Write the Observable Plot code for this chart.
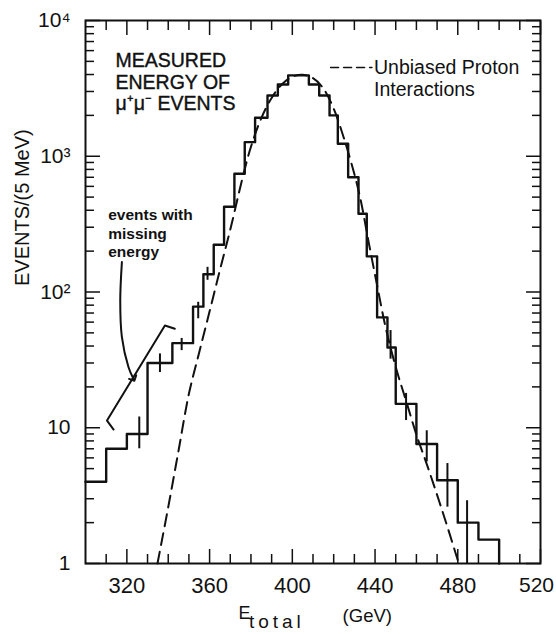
<!DOCTYPE html>
<html><head><meta charset="utf-8">
<script src="https://cdn.jsdelivr.net/npm/d3@7"></script>
<script src="https://cdn.jsdelivr.net/npm/@observablehq/plot@0.6"></script>
<style>body{margin:0;background:#fff}#chart svg{display:block}</style>
</head><body><div id="chart"></div>
<script>
// Histogram: bin edges (GeV) and events per bin
const binEdges = [300, 310, 320, 330, 342, 352, 357, 362, 367, 372, 377, 382, 388, 393, 398, 408, 413, 418, 422, 427, 432, 436, 441, 446, 450, 460, 470, 480, 490, 500];
const binCounts = [4, 7, 9, 30, 42, 78, 135, 223, 425, 743, 1270, 1920, 2800, 3380, 3940, 3380, 2800, 2000, 1235, 701, 377, 183, 65, 39, 15, 7.6, 4.1, 2.0, 1.5];

// Error bars
const errX  = [326, 336, 346.5, 354.5, 359, 447.5, 455, 465, 475, 484.5];
const errLo = [7.0, 25.5, 37, 63.5, 122, 32, 11.3, 5.6, 2.6, 1];
const errHi = [12, 35, 45.5, 84, 152, 52, 17.9, 9.5, 5.45, 2.9];

// Dashed curve: unbiased proton interactions
const curveE = [334.8, 340, 345, 350, 355, 360, 365, 370, 376, 380, 385, 390, 395, 400, 405, 410, 415, 420, 425, 430, 433, 437, 441, 445, 450, 455, 460, 465, 470, 475, 480.5];
const curveN = [1, 2.6, 6.8, 17.8, 36, 72, 145, 288, 700, 1175, 1905, 2690, 3390, 3850, 3980, 3760, 3160, 2240, 1350, 740, 480, 229, 112, 56, 28, 15.8, 8.9, 5.4, 3.2, 1.86, 1];

// Axis ticks and labels
const xMinorTicks = [310, 330, 340, 350, 370, 380, 390, 410, 420, 430, 450, 460, 470, 490, 500, 510];
const xMajorTicks = [320, 360, 400, 440, 480, 520];
const xLabelTicks = [320, 360, 400, 440, 480];
const xEdgeLabel = [520];
const yMajorTicks = [1, 10, 100, 1000, 10000];
const yTickLabels = ["1", "10", "10²", "10³", "10⁴"];
const yMinorTicks = [1, 10, 100, 1000].flatMap(d => [2,3,4,5,6,7,8,9].map(m => m * d));

// Annotations (anchored in data coordinates)
const titleNote = [{x: 314.5, y: 3524, text: "MEASURED\nENERGY OF\nμ⁺μ⁻ EVENTS"}];
const legendNote = [{x: 439.5, y: 3770, text: "Unbiased Proton\nInteractions"}];
const legendSample = [{x: 418.5, y: 4500}, {x: 438.5, y: 4500}];
const missingNote = [{x: 311, y: 274, text: "events with\nmissing\nenergy"}];
const bracketPts = [{x: 313.6, y: 9.7}, {x: 310.4, y: 11.3}, {x: 338.4, y: 56.6}, {x: 343.2, y: 53.6}];
const arrowPts = [{x: 317.6, y: 166}, {x: 316.8, y: 86}, {x: 317.6, y: 46.5}, {x: 320.8, y: 27.9}, {x: 323.2, y: 22.9}];

const histRows = binCounts.map((c, i) => ({x: binEdges[i], y: c}));
histRows.push({x: binEdges[binEdges.length - 1], y: binCounts[binCounts.length - 1]});
histRows.push({x: binEdges[binEdges.length - 1], y: 1});
const errRows = errX.map((x, i) => ({x, lo: errLo[i], hi: errHi[i]}));
const curveRows = curveE.map((x, i) => ({x, y: curveN[i]}));

const ink = "#111";
const plot = Plot.plot({
  width: 556, height: 634,
  marginLeft: 85, marginRight: 16, marginTop: 20, marginBottom: 71,
  x: {domain: [300, 520], label: null},
  y: {type: "log", domain: [1, 10000], label: null},
  style: {fontFamily: "'Liberation Sans', Arial, sans-serif", background: "#fff", color: ink},
  marks: [
    Plot.frame({stroke: ink, strokeWidth: 2}),
    Plot.axisX({anchor: "bottom", ticks: xMinorTicks, tickSize: -9, tickFormat: () => "", label: null, strokeWidth: 1.5}),
    Plot.axisX({anchor: "bottom", ticks: xMajorTicks, tickSize: -14, tickFormat: () => "", label: null, strokeWidth: 1.5}),
    Plot.axisX({anchor: "top", ticks: xMinorTicks, tickSize: -9, tickFormat: () => "", label: null, strokeWidth: 1.5}),
    Plot.axisX({anchor: "top", ticks: xMajorTicks, tickSize: -14, tickFormat: () => "", label: null, strokeWidth: 1.5}),
    Plot.axisX({anchor: "bottom", ticks: xLabelTicks, tickSize: 0, tickPadding: 14, fontSize: 22, label: null, tickFormat: d => String(d)}),
    Plot.axisX({anchor: "bottom", ticks: xEdgeLabel, tickSize: 0, tickPadding: 14, fontSize: 21, dx: -4, label: null, tickFormat: d => String(d)}),
    Plot.axisY({anchor: "left", ticks: yMinorTicks, tickSize: -9, tickFormat: () => "", label: null, strokeWidth: 1.5}),
    Plot.axisY({anchor: "left", ticks: yMajorTicks, tickSize: -15, tickFormat: () => "", label: null, strokeWidth: 1.5}),
    Plot.axisY({anchor: "right", ticks: yMinorTicks, tickSize: -9, tickFormat: () => "", label: null, strokeWidth: 1.5}),
    Plot.axisY({anchor: "right", ticks: yMajorTicks, tickSize: -15, tickFormat: () => "", label: null, strokeWidth: 1.5}),
    Plot.axisY({anchor: "left", ticks: yMajorTicks, tickSize: 0, tickPadding: 15, fontSize: 21, label: null,
      tickFormat: d => yTickLabels[yMajorTicks.indexOf(d)]}),
    Plot.text(["EVENTS/(5 MeV)"], {frameAnchor: "left", dx: -63, dy: -6, rotate: -90, fontSize: 20, fill: ink}),
    Plot.text(["E"], {frameAnchor: "bottom", x: 374, dy: 50, textAnchor: "start", lineAnchor: "middle", fontSize: 18, fill: ink}),
    Plot.text(["total"], {frameAnchor: "bottom", x: 379, dy: 58, textAnchor: "start", lineAnchor: "middle", fontSize: 19, fill: ink}),
    Plot.text(["(GeV)"], {frameAnchor: "bottom", x: 424.3, dy: 53, textAnchor: "start", lineAnchor: "middle", fontSize: 18.5, fill: ink}),
    // dashed curve
    Plot.line(curveRows, {x: "x", y: "y", curve: "catmull-rom", stroke: ink, strokeWidth: 2, strokeDasharray: "12,7"}),
    // histogram
    Plot.line(histRows, {x: "x", y: "y", curve: "step-after", stroke: ink, strokeWidth: 2.4}),
    Plot.ruleX(errRows, {x: "x", y1: "lo", y2: "hi", stroke: ink, strokeWidth: 2}),
    // annotations
    Plot.text(titleNote, {x: "x", y: "y", text: "text", textAnchor: "start", lineAnchor: "middle", fontSize: 19.5, lineHeight: 1.1, fill: ink, stroke: ink, strokeWidth: 0.4}),
    Plot.line(legendSample, {x: "x", y: "y", stroke: ink, strokeWidth: 1.5, strokeDasharray: "8,5"}),
    Plot.text(legendNote, {x: "x", y: "y", text: "text", textAnchor: "start", lineAnchor: "middle", fontSize: 19.5, lineHeight: 1.13, fill: ink}),
    Plot.text(missingNote, {x: "x", y: "y", text: "text", textAnchor: "start", lineAnchor: "middle", fontSize: 15.5, fontWeight: "bold", lineHeight: 1.2, fill: ink}),
    Plot.line(bracketPts, {x: "x", y: "y", stroke: ink, strokeWidth: 2}),
    Plot.line(arrowPts, {x: "x", y: "y", curve: "catmull-rom", stroke: ink, strokeWidth: 2, markerEnd: "arrow"})
  ]
});
document.getElementById("chart").appendChild(plot);
plot.querySelectorAll("text").forEach(t => { if (t.textContent === "total") t.setAttribute("letter-spacing", "4"); });
</script>
</body></html>
